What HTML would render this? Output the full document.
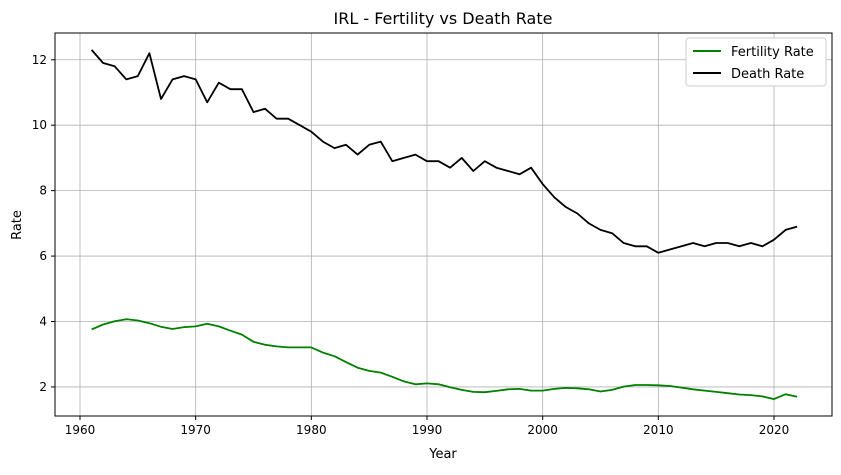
<!DOCTYPE html>
<html><head><meta charset="utf-8"><style>
body{margin:0;background:#fff;font-family:"Liberation Sans","DejaVu Sans",sans-serif}
svg text{font-family:"DejaVu Sans","Liberation Sans",sans-serif}
</style></head><body>
<svg id="chart" width="841" height="470" xmlns="http://www.w3.org/2000/svg">
<g id="grid"></g><g id="axes"></g><g id="series"></g>
<text x="443" y="24" text-anchor="middle" font-size="16" fill="#000">IRL - Fertility vs Death Rate</text>
<text x="443" y="458" text-anchor="middle" font-size="13" fill="#000">Year</text>
<text transform="translate(21,225) rotate(-90)" text-anchor="middle" font-size="13" fill="#000">Rate</text>
<g>
<rect x="686" y="38" width="140" height="48" rx="3" fill="#fff" stroke="#ccc"/>
<line x1="693" y1="51" x2="721" y2="51" stroke="#008000" stroke-width="2"/>
<text x="731" y="56" font-size="13" fill="#000">Fertility Rate</text>
<line x1="693" y1="73" x2="721" y2="73" stroke="#000" stroke-width="2"/>
<text x="731" y="78" font-size="13" fill="#000">Death Rate</text>
</g>
</svg>
<script>
const years=[1961,1962,1963,1964,1965,1966,1967,1968,1969,1970,1971,1972,1973,1974,1975,1976,1977,1978,1979,1980,1981,1982,1983,1984,1985,1986,1987,1988,1989,1990,1991,1992,1993,1994,1995,1996,1997,1998,1999,2000,2001,2002,2003,2004,2005,2006,2007,2008,2009,2010,2011,2012,2013,2014,2015,2016,2017,2018,2019,2020,2021,2022];
const deathRate=[12.3,11.9,11.8,11.4,11.5,12.2,10.8,11.4,11.5,11.4,10.7,11.3,11.1,11.1,10.4,10.5,10.2,10.2,10.0,9.8,9.5,9.3,9.4,9.1,9.4,9.5,8.9,9.0,9.1,8.9,8.9,8.7,9.0,8.6,8.9,8.7,8.6,8.5,8.7,8.2,7.8,7.5,7.3,7.0,6.8,6.7,6.4,6.3,6.3,6.1,6.2,6.3,6.4,6.3,6.4,6.4,6.3,6.4,6.3,6.5,6.8,6.9];
const fertilityRate=[3.76,3.91,4.01,4.07,4.03,3.95,3.84,3.77,3.83,3.85,3.93,3.85,3.72,3.60,3.38,3.29,3.24,3.21,3.21,3.21,3.05,2.94,2.76,2.59,2.49,2.44,2.31,2.17,2.08,2.11,2.08,1.99,1.91,1.85,1.84,1.88,1.93,1.94,1.89,1.89,1.94,1.97,1.96,1.93,1.86,1.91,2.01,2.06,2.06,2.05,2.03,1.98,1.93,1.89,1.85,1.81,1.77,1.75,1.71,1.63,1.78,1.70];
const xTicks=[1960,1970,1980,1990,2000,2010,2020];
const yTicks=[2,4,6,8,10,12];
const L=55,R=832,T=33,B=416;
const xs=v=>80+(v-1960)*(694/60);
const ys=v=>452.4-v*32.72;
const NS="http://www.w3.org/2000/svg";
const grid=document.getElementById('grid'),axes=document.getElementById('axes'),ser=document.getElementById('series');
function mk(tag,attrs,parent){const e=document.createElementNS(NS,tag);for(const k in attrs)e.setAttribute(k,attrs[k]);parent.appendChild(e);return e;}
xTicks.forEach(t=>{const x=xs(t);
const g=mk('line',{x1:x,x2:x,y1:T,y2:B,stroke:'#b0b0b0','stroke-width':0.8},grid);


mk('line',{x1:x,x2:x,y1:B,y2:B+4,stroke:'#000'},axes);
const tx=mk('text',{x:x,y:B+18,'text-anchor':'middle','font-size':12,fill:'#000'},axes);tx.textContent=t;

});
yTicks.forEach(t=>{const y=ys(t);
const g=mk('line',{x1:L,x2:R,y1:y,y2:y,stroke:'#b0b0b0','stroke-width':0.8},grid);


mk('line',{x1:L-4,x2:L,y1:y,y2:y,stroke:'#000'},axes);
const tx=mk('text',{x:L-8,y:y+4,'text-anchor':'end','font-size':12,fill:'#000'},axes);tx.textContent=t;

});
const fr=mk('rect',{x:L,y:T,width:R-L,height:B-T,fill:'none',stroke:'#000','stroke-width':1},axes);


function line(vals,color,name){const d=vals.map((v,i)=>(i?'L':'M')+xs(years[i]).toFixed(1)+','+ys(v).toFixed(1)).join('');
const p=mk('path',{d:d,fill:'none',stroke:color,'stroke-width':1.8,'stroke-linejoin':'round'},ser);

}
line(fertilityRate,'#008000','fertility-rate-line');
line(deathRate,'#000','death-rate-line');
</script>
</body></html>
